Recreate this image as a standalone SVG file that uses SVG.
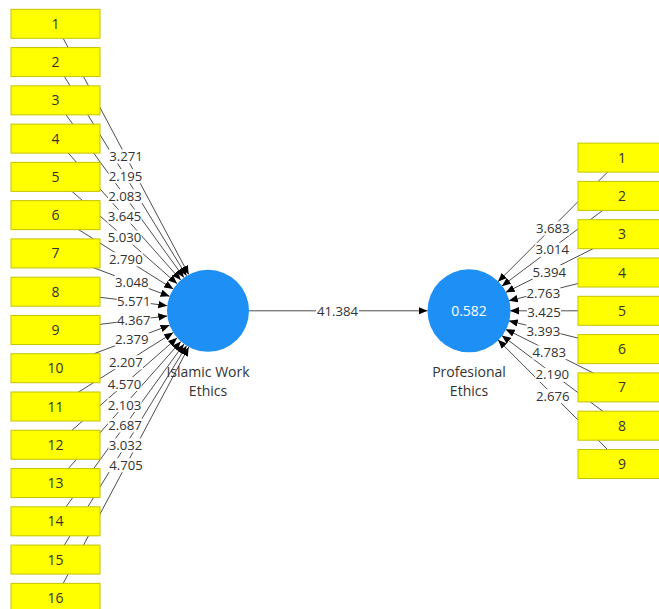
<svg xmlns="http://www.w3.org/2000/svg" width="659" height="609" viewBox="0 0 659 609">
<defs>
<marker id="ah" markerWidth="9" markerHeight="8" refX="9" refY="4" orient="auto" markerUnits="userSpaceOnUse">
<path d="M0,0.3 L9,4 L0,7.7 z" fill="#000"/>
</marker>
<style>
.ln{stroke:#4d4d4d;stroke-width:1;fill:none;marker-end:url(#ah)}
.lb rect{fill:#fff}
.lb text{font-family:"Open Sans","Noto Sans",sans-serif;font-size:13.2px;fill:#333;text-anchor:middle}
.ind rect{fill:#ffff00;stroke:#c4c400;stroke-width:1}
.ind text{font-family:"Open Sans","Noto Sans",sans-serif;font-size:14px;fill:#333;text-anchor:middle}
.lv circle{fill:#1e8ff5}
.lv text{font-family:"Open Sans","Noto Sans",sans-serif;font-size:14px;fill:#333;text-anchor:middle}
.lv text.val{fill:#fff;font-size:14px}
</style>
</defs>
<rect width="659" height="609" fill="#fff"/>
<g id="connectors">
<line class="ln" x1="55.5" y1="23.8" x2="188.76" y2="274.59"/>
<line class="ln" x1="55.5" y1="62.07" x2="186.57" y2="275.85"/>
<line class="ln" x1="55.5" y1="100.34" x2="183.94" y2="277.6"/>
<line class="ln" x1="55.5" y1="138.61" x2="180.82" y2="280.11"/>
<line class="ln" x1="55.5" y1="176.88" x2="177.19" y2="283.75"/>
<line class="ln" x1="55.5" y1="215.15" x2="173.26" y2="289.01"/>
<line class="ln" x1="55.5" y1="253.42" x2="169.62" y2="296.36"/>
<line class="ln" x1="55.5" y1="291.69" x2="167.32" y2="305.7"/>
<line class="ln" x1="55.5" y1="329.96" x2="167.32" y2="315.9"/>
<line class="ln" x1="55.5" y1="368.23" x2="169.62" y2="325.24"/>
<line class="ln" x1="55.5" y1="406.5" x2="173.26" y2="332.59"/>
<line class="ln" x1="55.5" y1="444.77" x2="177.19" y2="337.85"/>
<line class="ln" x1="55.5" y1="483.04" x2="180.82" y2="341.49"/>
<line class="ln" x1="55.5" y1="521.31" x2="183.94" y2="344.0"/>
<line class="ln" x1="55.5" y1="559.58" x2="186.57" y2="345.75"/>
<line class="ln" x1="55.5" y1="597.85" x2="188.76" y2="347.01"/>
<line class="ln" x1="622" y1="157.6" x2="497.97" y2="281.79"/>
<line class="ln" x1="622" y1="195.9" x2="501.79" y2="286.17"/>
<line class="ln" x1="622" y1="234.2" x2="505.66" y2="292.44"/>
<line class="ln" x1="622" y1="272.5" x2="508.78" y2="300.84"/>
<line class="ln" x1="622" y1="310.8" x2="510" y2="310.8"/>
<line class="ln" x1="622" y1="349.1" x2="508.78" y2="320.76"/>
<line class="ln" x1="622" y1="387.4" x2="505.66" y2="329.16"/>
<line class="ln" x1="622" y1="425.7" x2="501.79" y2="335.43"/>
<line class="ln" x1="622" y1="464" x2="497.97" y2="339.81"/>
<line class="ln" x1="249" y1="310.8" x2="427.5" y2="310.8"/>
<g class="lb">
<rect x="109" y="149.4" width="34" height="14"/><text x="126" y="161">3.271</text>
<rect x="108.5" y="169.2" width="34" height="14"/><text x="125.5" y="180.8">2.195</text>
<rect x="108" y="189.2" width="34" height="14"/><text x="125" y="200.8">2.083</text>
<rect x="107.6" y="209.6" width="34" height="14"/><text x="124.6" y="221.2">3.645</text>
<rect x="107.6" y="230.6" width="34" height="14"/><text x="124.6" y="242.2">5.030</text>
<rect x="108.9" y="252.3" width="34" height="14"/><text x="125.9" y="263.9">2.790</text>
<rect x="114.8" y="275.1" width="34" height="14"/><text x="131.8" y="286.7">3.048</text>
<rect x="116.7" y="294.5" width="34" height="14"/><text x="133.7" y="306.1">5.571</text>
<rect x="116.7" y="313.2" width="34" height="14"/><text x="133.7" y="324.8">4.367</text>
<rect x="114.8" y="332.5" width="34" height="14"/><text x="131.8" y="344.1">2.379</text>
<rect x="108.9" y="355.3" width="34" height="14"/><text x="125.9" y="366.9">2.207</text>
<rect x="107.6" y="377.1" width="34" height="14"/><text x="124.6" y="388.7">4.570</text>
<rect x="107.6" y="398" width="34" height="14"/><text x="124.6" y="409.6">2.103</text>
<rect x="108" y="418.4" width="34" height="14"/><text x="125" y="430">2.687</text>
<rect x="108.5" y="438.4" width="34" height="14"/><text x="125.5" y="450">3.032</text>
<rect x="109" y="458.2" width="34" height="14"/><text x="126" y="469.8">4.705</text>
<rect x="535.8" y="221.4" width="34" height="14"/><text x="552.8" y="233">3.683</text>
<rect x="535.2" y="242.8" width="34" height="14"/><text x="552.2" y="254.4">3.014</text>
<rect x="532.3" y="265.1" width="34" height="14"/><text x="549.3" y="276.7">5.394</text>
<rect x="526.4" y="286.7" width="34" height="14"/><text x="543.4" y="298.3">2.763</text>
<rect x="527" y="305" width="34" height="14"/><text x="544" y="316.6">3.425</text>
<rect x="526.4" y="323.9" width="34" height="14"/><text x="543.4" y="335.5">3.393</text>
<rect x="532.3" y="345.5" width="34" height="14"/><text x="549.3" y="357.1">4.783</text>
<rect x="535.2" y="367.8" width="34" height="14"/><text x="552.2" y="379.4">2.190</text>
<rect x="535.8" y="389.2" width="34" height="14"/><text x="552.8" y="400.8">2.676</text>
<rect x="316" y="303.8" width="43" height="14"/><text x="337.5" y="315.5">41.384</text>
</g>
</g>
<g id="left-indicators" class="ind">
<g id="iwe1"><rect x="11" y="9.3" width="89" height="29"/><text x="55.5" y="28.8">1</text></g>
<g id="iwe2"><rect x="11" y="47.57" width="89" height="29"/><text x="55.5" y="67.07">2</text></g>
<g id="iwe3"><rect x="11" y="85.84" width="89" height="29"/><text x="55.5" y="105.34">3</text></g>
<g id="iwe4"><rect x="11" y="124.11" width="89" height="29"/><text x="55.5" y="143.61">4</text></g>
<g id="iwe5"><rect x="11" y="162.38" width="89" height="29"/><text x="55.5" y="181.88">5</text></g>
<g id="iwe6"><rect x="11" y="200.65" width="89" height="29"/><text x="55.5" y="220.15">6</text></g>
<g id="iwe7"><rect x="11" y="238.92" width="89" height="29"/><text x="55.5" y="258.42">7</text></g>
<g id="iwe8"><rect x="11" y="277.19" width="89" height="29"/><text x="55.5" y="296.69">8</text></g>
<g id="iwe9"><rect x="11" y="315.46" width="89" height="29"/><text x="55.5" y="334.96">9</text></g>
<g id="iwe10"><rect x="11" y="353.73" width="89" height="29"/><text x="55.5" y="373.23">10</text></g>
<g id="iwe11"><rect x="11" y="392" width="89" height="29"/><text x="55.5" y="411.5">11</text></g>
<g id="iwe12"><rect x="11" y="430.27" width="89" height="29"/><text x="55.5" y="449.77">12</text></g>
<g id="iwe13"><rect x="11" y="468.54" width="89" height="29"/><text x="55.5" y="488.04">13</text></g>
<g id="iwe14"><rect x="11" y="506.81" width="89" height="29"/><text x="55.5" y="526.31">14</text></g>
<g id="iwe15"><rect x="11" y="545.08" width="89" height="29"/><text x="55.5" y="564.58">15</text></g>
<g id="iwe16"><rect x="11" y="583.35" width="89" height="29"/><text x="55.5" y="602.85">16</text></g>
</g>
<g id="right-indicators" class="ind">
<g id="pe1"><rect x="578" y="143.1" width="88" height="29"/><text x="622" y="162.6">1</text></g>
<g id="pe2"><rect x="578" y="181.4" width="88" height="29"/><text x="622" y="200.9">2</text></g>
<g id="pe3"><rect x="578" y="219.7" width="88" height="29"/><text x="622" y="239.2">3</text></g>
<g id="pe4"><rect x="578" y="258" width="88" height="29"/><text x="622" y="277.5">4</text></g>
<g id="pe5"><rect x="578" y="296.3" width="88" height="29"/><text x="622" y="315.8">5</text></g>
<g id="pe6"><rect x="578" y="334.6" width="88" height="29"/><text x="622" y="354.1">6</text></g>
<g id="pe7"><rect x="578" y="372.9" width="88" height="29"/><text x="622" y="392.4">7</text></g>
<g id="pe8"><rect x="578" y="411.2" width="88" height="29"/><text x="622" y="430.7">8</text></g>
<g id="pe9"><rect x="578" y="449.5" width="88" height="29"/><text x="622" y="469">9</text></g>
</g>
<g id="islamic-work-ethics" class="lv">
<circle cx="208" cy="310.8" r="41"/>
<text x="208" y="377">Islamic Work</text>
<text x="208" y="396">Ethics</text>
</g>
<g id="profesional-ethics" class="lv">
<circle cx="469" cy="310.8" r="41.5"/>
<text class="val" x="469" y="316">0.582</text>
<text x="469" y="377">Profesional</text>
<text x="469" y="396">Ethics</text>
</g>
</svg>
